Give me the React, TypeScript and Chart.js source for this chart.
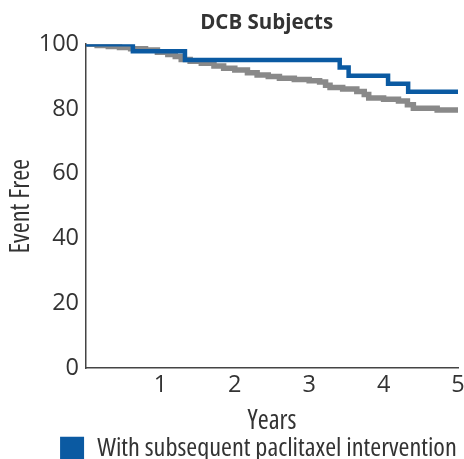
import React, { useEffect, useRef } from "react";
import { Chart, registerables } from "chart.js";

Chart.register(...registerables);

const FONT = "'Open Sans', 'Noto Sans', sans-serif";

const chartTitle = "DCB Subjects\u00a0\u00a0";
const xTitle = "Years";
const yTitle = "Event Free";
const seriesLabels = ["With subsequent paclitaxel intervention", "Without subsequent paclitaxel intervention"];

const withYears = [0, 0.63, 1.33, 3.41, 3.53, 4.06, 4.33, 5.0];
const withValues = [100, 97.8, 95.1, 92.8, 90.3, 87.8, 85.3, 85.3];

const withoutYears = [0, 0.15, 0.3, 0.45, 0.6, 0.8, 0.96, 1.1, 1.2, 1.28, 1.4, 1.55, 1.72, 1.85, 2.0, 2.17, 2.3, 2.45, 2.6, 2.8, 3.0, 3.14, 3.22, 3.28, 3.45, 3.64, 3.74, 3.8, 4.0, 4.2, 4.32, 4.4, 4.72, 5.0];
const withoutValues = [100, 99.6, 99.3, 99.0, 98.6, 98.2, 97.5, 96.8, 96.2, 95.3, 94.7, 94.1, 93.3, 92.6, 92.0, 91.2, 90.5, 90.0, 89.5, 89.1, 88.7, 88.3, 87.3, 86.6, 86.2, 85.4, 84.5, 83.4, 83.0, 82.5, 81.3, 80.2, 79.7, 79.7];

const xTicks = [1, 2, 3, 4, 5];
const yTicks = [0, 20, 40, 60, 80, 100];

const BLUE = "#0b5aa2";
const GRAY = "#898989";
const TEXT = "#333333";

export default function App() {
  const ref = useRef<HTMLCanvasElement | null>(null);
  useEffect(() => {
    if (!ref.current) return;
    const chart = new Chart(ref.current, {
      type: "line",
      data: {
        datasets: [
          {
            label: seriesLabels[0],
            data: withYears.map((x, i) => ({ x, y: withValues[i] })),
            borderColor: BLUE,
            backgroundColor: BLUE,
            borderWidth: 4.5,
            stepped: true,
            pointRadius: 0,
            fill: false,
          },
          {
            label: seriesLabels[1],
            data: withoutYears.map((x, i) => ({ x, y: withoutValues[i] })),
            borderColor: GRAY,
            backgroundColor: GRAY,
            borderWidth: 5.5,
            stepped: true,
            pointRadius: 0,
            fill: false,
          },
        ],
      },
      options: {
        animation: false,
        responsive: false,
        devicePixelRatio: 1,
        layout: { padding: { left: 0, right: 22, top: 0, bottom: 0 } },
        plugins: {
          tooltip: { enabled: false },
          title: {
            display: true,
            text: chartTitle,
            fullSize: false,
            color: TEXT,
            font: { family: FONT, size: 20.5, weight: "bold" },
            padding: { top: 11.3, bottom: 8.3 },
          },
          legend: {
            display: true,
            position: "bottom",
            align: "end",
            fullSize: true,
            labels: {
              color: TEXT,
              font: { family: FONT, size: 26.3, weight: "normal condensed" as any },
              boxWidth: 24,
              boxHeight: 24,
              padding: 1.2,
              generateLabels: (c: any) =>
                Chart.defaults.plugins.legend.labels
                  .generateLabels(c)
                  .filter((it: any) => it.datasetIndex === 0)
                  .map((it: any) => ({ ...it, lineWidth: 0 })),
            },
          },
        },
        scales: {
          x: {
            type: "linear",
            min: 0,
            max: 5,
            afterBuildTicks: (s: any) => {
              s.ticks = xTicks.map((v) => ({ value: v }));
            },
            grid: { display: false, drawTicks: false },
            border: { display: true, color: "#444444", width: 1.5 },
            ticks: {
              color: TEXT,
              padding: 3,
              maxRotation: 0,
              autoSkip: false,
              font: { family: FONT, size: 23.5 },
            },
            title: {
              display: true,
              text: xTitle,
              color: TEXT,
              font: { family: FONT, size: 26.5, lineHeight: 1.0, weight: "normal condensed" as any },
              padding: { top: 5.6, bottom: 0 },
            },
          },
          y: {
            type: "linear",
            min: 0,
            max: 100,
            afterBuildTicks: (s: any) => {
              s.ticks = yTicks.map((v) => ({ value: v }));
            },
            afterFit: (s: any) => {
              s.width = 86;
            },
            grid: { display: false, drawTicks: false },
            border: { display: true, color: "#444444", width: 1.5 },
            ticks: {
              color: TEXT,
              padding: 7,
              font: { family: FONT, size: 23.5 },
            },
            title: {
              display: true,
              text: yTitle,
              color: TEXT,
              font: { family: FONT, size: 26.5, weight: "normal condensed" as any },
              padding: { top: 5.5, bottom: 0 },
            },
          },
        },
      },
    });
    return () => chart.destroy();
  }, []);
  return (
    <div style={{ position: "fixed", left: 0, top: 0, width: 464, height: 459, overflow: "hidden", background: "#fff" }}>
      <canvas ref={ref} width={480} height={472} style={{ display: "block", width: 480, height: 472 }} />
    </div>
  );
}
